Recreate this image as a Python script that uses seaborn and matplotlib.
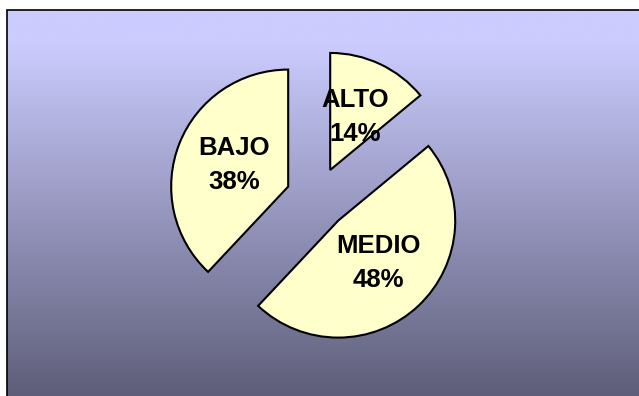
import numpy as np
import matplotlib
matplotlib.use("Agg")
import matplotlib.pyplot as plt
from matplotlib.patches import Rectangle
import seaborn as sns

# Data
categories = ["ALTO", "MEDIO", "BAJO"]
shares = [14, 48, 38]

sns.set_theme(style="white")
plt.rcParams["font.family"] = ["Liberation Sans", "DejaVu Sans"]

W, H = 639, 396
fig = plt.figure(figsize=(W / 100, H / 100), dpi=100, facecolor="white")
ax = fig.add_axes([0, 0, 1, 1])
ax.set_xlim(0, W)
ax.set_ylim(0, H)
ax.set_axis_off()

# Vertical gradient panel (lavender at the top, slate at the bottom)
top = np.array([204, 204, 255]) / 255
bottom = np.array([94, 94, 122]) / 255
rows = 400
t = np.clip((np.linspace(0, 1, rows) - 0.08) / 0.92, 0, 1)[:, None]
grad = (1 - t) * top + t * bottom
grad = np.repeat(grad[:, None, :], 2, axis=1)
ax.imshow(grad, extent=(7, W, 0, H - 10), aspect="auto", zorder=0,
          interpolation="bilinear")
ax.add_patch(Rectangle((7, -20), W + 20, H - 10 + 20, fill=False,
                       edgecolor="black", linewidth=1.2, zorder=1))

radius = 117
wedges, texts, autotexts = ax.pie(
    shares,
    explode=[31] * len(shares),   # offset in data units (pixels here)
    startangle=90,
    counterclock=False,
    center=(317, 198),
    radius=radius,
    colors=["#FFFFCC"] * len(shares),
    wedgeprops=dict(edgecolor="black", linewidth=1.5),
    autopct="%.0f%%",
    pctdistance=0.5,
    frame=True,
    textprops=dict(fontsize=18.5, fontweight="bold", color="black",
                   linespacing=1.5),
)
for cat, at in zip(categories, autotexts):
    at.set_text(f"{cat}\n{at.get_text()}")
    at.set_zorder(5)

ax.set_xlim(0, W)
ax.set_ylim(0, H)
ax.set_aspect("auto")
ax.set_axis_off()

fig.savefig("out.png", dpi=100, facecolor="white")
